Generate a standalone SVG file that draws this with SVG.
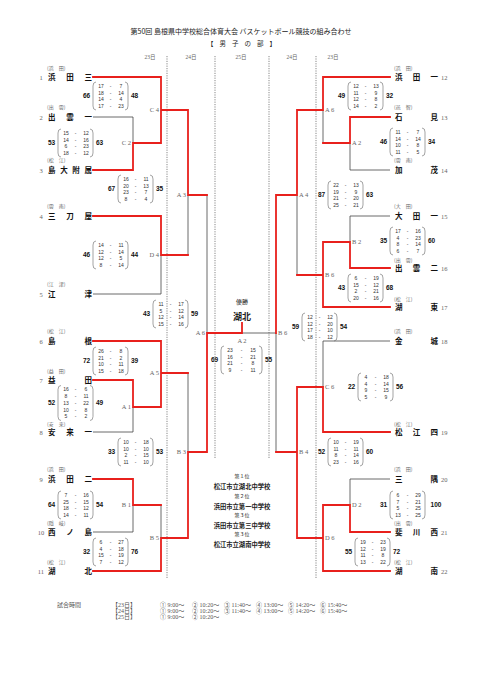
<svg xmlns="http://www.w3.org/2000/svg" width="481" height="680" viewBox="0 0 481 680">
<style>
.t{font-family:"Noto Sans CJK JP","Noto Sans",sans-serif}
.title{font-family:"Noto Sans CJK JP",sans-serif;fill:#222}
.date{font-family:"Liberation Serif","Noto Sans CJK JP",serif;font-size:5.5px;fill:#666;text-anchor:middle}
.nm{font-family:"Noto Sans CJK JP",sans-serif;font-size:7.5px;font-weight:700;fill:#111}
.rg{font-family:"Noto Sans CJK JP",sans-serif;font-size:5px;fill:#666}
.no{font-family:"Liberation Serif",serif;font-size:6.5px;fill:#666}
.lb{font-family:"Liberation Serif",serif;font-size:6.5px;fill:#666}
.sc{font-family:"Liberation Sans",sans-serif;font-size:6.5px;font-weight:700;fill:#111;text-anchor:middle}
.rw{font-family:"Liberation Sans",sans-serif;font-size:5px;fill:#333;text-anchor:middle}
.br{fill:none;stroke:#666;stroke-width:0.6}
.gl{fill:none;stroke:#444;stroke-width:0.8}
.rl{fill:none;stroke:#e8201c;stroke-width:1.8;stroke-linejoin:miter;stroke-linecap:square}
.dt{stroke:#555;stroke-width:0.7;stroke-dasharray:1.2 1.2}
.ctr{font-family:"Noto Sans CJK JP",sans-serif;text-anchor:middle;fill:#222}
.sch{font-family:"Liberation Serif","Noto Sans CJK JP",serif;font-size:6px;fill:#555}
</style>
<defs>
<path id="bk4" class="br" d="M3,-14 Q0,-14 0,-10 V10 Q0,14 3,14 M32,-14 Q35,-14 35,-10 V10 Q35,14 32,14"/>
<path id="bk5" class="br" d="M3,-17.5 Q0,-17.5 0,-13.5 V13.5 Q0,17.5 3,17.5 M32,-17.5 Q35,-17.5 35,-13.5 V13.5 Q35,17.5 32,17.5"/>
<path id="bkf" class="br" d="M3,-14 Q0,-14 0,-10 V10 Q0,14 3,14 M38,-14 Q41,-14 41,-10 V10 Q41,14 38,14"/>
</defs>
<rect width="481" height="680" fill="#fff"/>

<g id="header">
<text class="title" x="241" y="34" text-anchor="middle" font-size="7">第50回 島根県中学校総合体育大会 バスケットボール競技の組み合わせ</text>
<text class="title" x="207" y="46" font-size="6.5" textLength="69" lengthAdjust="spacing">【男子の部】</text>
<text class="date" x="150" y="59">23日</text>
<text class="date" x="191" y="59">24日</text>
<text class="date" x="241" y="59">25日</text>
<text class="date" x="292" y="59">24日</text>
<text class="date" x="333" y="59">23日</text>
</g>

<g id="day-dividers">
<line class="dt" x1="167" y1="56" x2="167" y2="578"/>
<line class="dt" x1="215" y1="56" x2="215" y2="458"/>
<line class="dt" x1="269" y1="56" x2="269" y2="458"/>
<line class="dt" x1="316" y1="56" x2="316" y2="578"/>
</g>

<g id="connectors">
<path class="gl" d="M93,117 H133 V143 M93,294 H161 V255 M188,255 V195 M207,195 V333 M93,432 H133 V407 M188,373 V452 M93,532 H133 V505 M161,505 V538 M242,333 H276"/>
<path class="gl" d="M390,170 H350 V143 M323,143 V110 M390,216 H350 V242 M297,275 V195 M390,341 H323 V387 M390,479 H350 V505 M276,452 V333"/>
<path class="rl" d="M93,77 H161 V110 H188 V195 H207 M93,170 H133 V143 H161 V110 M93,216 H161 V255 H188 M93,341 H161 V373 H188 M93,380 H133 V407 H161 V373 M93,479 H133 V505 H161 M93,571 H161 V538 H188 V452 H207 V333 H242 V323"/>
<path class="rl" d="M390,77 H323 V110 H297 V195 H276 V333 M390,117 H350 V143 H323 M390,268 H350 V242 H323 V275 H297 M390,307 H323 V275 M390,432 H323 V387 H297 V452 H276 M390,532 H350 V505 H323 V538 M390,571 H323 V538 H297 V452"/>
</g>

<g id="teams-left">
<g id="team-1"><text class="no" x="41" y="79.5" text-anchor="middle">1</text><text class="rg" x="47" y="70">(浜　田)</text><text class="nm" x="48" y="80" textLength="44" lengthAdjust="spacing">浜田三</text></g>
<g id="team-2"><text class="no" x="41" y="119.5" text-anchor="middle">2</text><text class="rg" x="47" y="109">(出　雲)</text><text class="nm" x="48" y="120" textLength="44" lengthAdjust="spacing">出雲一</text></g>
<g id="team-3"><text class="no" x="41" y="172.5" text-anchor="middle">3</text><text class="rg" x="47" y="161.5">(松　江)</text><text class="nm" x="48" y="173" textLength="44" lengthAdjust="spacing">島大附属</text></g>
<g id="team-4"><text class="no" x="41" y="218.5" text-anchor="middle">4</text><text class="rg" x="47" y="208">(雲　南)</text><text class="nm" x="48" y="219" textLength="44" lengthAdjust="spacing">三刀屋</text></g>
<g id="team-5"><text class="no" x="41" y="296.5" text-anchor="middle">5</text><text class="rg" x="47" y="286">(江　津)</text><text class="nm" x="48" y="297" textLength="44" lengthAdjust="spacing">江津</text></g>
<g id="team-6"><text class="no" x="41" y="343.5" text-anchor="middle">6</text><text class="rg" x="47" y="333">(松　江)</text><text class="nm" x="48" y="344" textLength="44" lengthAdjust="spacing">島根</text></g>
<g id="team-7"><text class="no" x="41" y="382.5" text-anchor="middle">7</text><text class="rg" x="47" y="373">(益　田)</text><text class="nm" x="48" y="383" textLength="44" lengthAdjust="spacing">益田</text></g>
<g id="team-8"><text class="no" x="41" y="434.5" text-anchor="middle">8</text><text class="rg" x="47" y="425.5">(安　来)</text><text class="nm" x="48" y="435" textLength="44" lengthAdjust="spacing">安来一</text></g>
<g id="team-9"><text class="no" x="41" y="481.5" text-anchor="middle">9</text><text class="rg" x="47" y="471">(浜　田)</text><text class="nm" x="48" y="482" textLength="44" lengthAdjust="spacing">浜田二</text></g>
<g id="team-10"><text class="no" x="41" y="534.5" text-anchor="middle">10</text><text class="rg" x="47" y="524.5">(隠　岐)</text><text class="nm" x="48" y="535" textLength="44" lengthAdjust="spacing">西ノ島</text></g>
<g id="team-11"><text class="no" x="41" y="573.5" text-anchor="middle">11</text><text class="rg" x="47" y="564">(松　江)</text><text class="nm" x="48" y="574" textLength="44" lengthAdjust="spacing">湖北</text></g>
</g>

<g id="teams-right">
<g id="team-12"><text class="no" x="441" y="79.5">12</text><text class="rg" x="394" y="70">(浜　田)</text><text class="nm" x="395" y="80" textLength="43" lengthAdjust="spacing">浜田一</text></g>
<g id="team-13"><text class="no" x="441" y="119.5">13</text><text class="rg" x="394" y="109">(邑　智)</text><text class="nm" x="395" y="120" textLength="43" lengthAdjust="spacing">石見</text></g>
<g id="team-14"><text class="no" x="441" y="172.5">14</text><text class="rg" x="394" y="161.5">(雲　南)</text><text class="nm" x="395" y="173" textLength="43" lengthAdjust="spacing">加茂</text></g>
<g id="team-15"><text class="no" x="441" y="218.5">15</text><text class="rg" x="394" y="208">(大　田)</text><text class="nm" x="395" y="219" textLength="43" lengthAdjust="spacing">大田一</text></g>
<g id="team-16"><text class="no" x="441" y="270.5">16</text><text class="rg" x="394" y="261.5">(出　雲)</text><text class="nm" x="395" y="271" textLength="43" lengthAdjust="spacing">出雲二</text></g>
<g id="team-17"><text class="no" x="441" y="309.5">17</text><text class="rg" x="394" y="300.5">(松　江)</text><text class="nm" x="395" y="310" textLength="43" lengthAdjust="spacing">湖東</text></g>
<g id="team-18"><text class="no" x="441" y="343.5">18</text><text class="rg" x="394" y="333">(浜　田)</text><text class="nm" x="395" y="344" textLength="43" lengthAdjust="spacing">金城</text></g>
<g id="team-19"><text class="no" x="441" y="434.5">19</text><text class="rg" x="394" y="425.5">(松　江)</text><text class="nm" x="395" y="435" textLength="43" lengthAdjust="spacing">松江四</text></g>
<g id="team-20"><text class="no" x="441" y="481.5">20</text><text class="rg" x="394" y="471">(浜　田)</text><text class="nm" x="395" y="482" textLength="43" lengthAdjust="spacing">三隅</text></g>
<g id="team-21"><text class="no" x="441" y="534.5">21</text><text class="rg" x="394" y="524.5">(出　雲)</text><text class="nm" x="395" y="535" textLength="43" lengthAdjust="spacing">斐川西</text></g>
<g id="team-22"><text class="no" x="441" y="573.5">22</text><text class="rg" x="394" y="564">(松　江)</text><text class="nm" x="395" y="574" textLength="43" lengthAdjust="spacing">湖南</text></g>
</g>

<g id="matches-left">
<g id="m-C4"><text class="lb" x="159" y="112" text-anchor="end">C 4</text><g transform="translate(93,96)"><use href="#bk4"/><text class="sc" x="-6.5" y="2.3">66</text><text class="sc" x="41.5" y="2.3">48</text>
<text class="rw" y="-8.2"><tspan x="8">17</tspan><tspan x="17.5">-</tspan><tspan x="28">7</tspan></text>
<text class="rw" y="-1.5"><tspan x="8">18</tspan><tspan x="17.5">-</tspan><tspan x="28">14</tspan></text>
<text class="rw" y="5.2"><tspan x="8">14</tspan><tspan x="17.5">-</tspan><tspan x="28">4</tspan></text>
<text class="rw" y="11.9"><tspan x="8">17</tspan><tspan x="17.5">-</tspan><tspan x="28">23</tspan></text></g></g>

<g id="m-C2"><text class="lb" x="131" y="145" text-anchor="end">C 2</text><g transform="translate(58,143)"><use href="#bk4"/><text class="sc" x="-6.5" y="2.3">53</text><text class="sc" x="41.5" y="2.3">63</text>
<text class="rw" y="-8.2"><tspan x="8">15</tspan><tspan x="17.5">-</tspan><tspan x="28">12</tspan></text>
<text class="rw" y="-1.5"><tspan x="8">14</tspan><tspan x="17.5">-</tspan><tspan x="28">16</tspan></text>
<text class="rw" y="5.2"><tspan x="8">6</tspan><tspan x="17.5">-</tspan><tspan x="28">23</tspan></text>
<text class="rw" y="11.9"><tspan x="8">18</tspan><tspan x="17.5">-</tspan><tspan x="28">12</tspan></text></g></g>

<g id="m-A3"><text class="lb" x="186" y="197" text-anchor="end">A 3</text><g transform="translate(118,189)"><use href="#bk4"/><text class="sc" x="-6.5" y="2.3">67</text><text class="sc" x="41.5" y="2.3">35</text>
<text class="rw" y="-8.2"><tspan x="8">16</tspan><tspan x="17.5">-</tspan><tspan x="28">11</tspan></text>
<text class="rw" y="-1.5"><tspan x="8">20</tspan><tspan x="17.5">-</tspan><tspan x="28">13</tspan></text>
<text class="rw" y="5.2"><tspan x="8">23</tspan><tspan x="17.5">-</tspan><tspan x="28">7</tspan></text>
<text class="rw" y="11.9"><tspan x="8">8</tspan><tspan x="17.5">-</tspan><tspan x="28">4</tspan></text></g></g>

<g id="m-D4"><text class="lb" x="159" y="257" text-anchor="end">D 4</text><g transform="translate(93,255)"><use href="#bk4"/><text class="sc" x="-6.5" y="2.3">46</text><text class="sc" x="41.5" y="2.3">44</text>
<text class="rw" y="-8.2"><tspan x="8">14</tspan><tspan x="17.5">-</tspan><tspan x="28">11</tspan></text>
<text class="rw" y="-1.5"><tspan x="8">12</tspan><tspan x="17.5">-</tspan><tspan x="28">14</tspan></text>
<text class="rw" y="5.2"><tspan x="8">12</tspan><tspan x="17.5">-</tspan><tspan x="28">5</tspan></text>
<text class="rw" y="11.9"><tspan x="8">8</tspan><tspan x="17.5">-</tspan><tspan x="28">14</tspan></text></g></g>

<g id="m-A6L"><text class="lb" x="205" y="335" text-anchor="end">A 6</text><g transform="translate(153,314)"><use href="#bk4"/><text class="sc" x="-6.5" y="2.3">43</text><text class="sc" x="41.5" y="2.3">59</text>
<text class="rw" y="-8.2"><tspan x="8">11</tspan><tspan x="17.5">-</tspan><tspan x="28">17</tspan></text>
<text class="rw" y="-1.5"><tspan x="8">5</tspan><tspan x="17.5">-</tspan><tspan x="28">12</tspan></text>
<text class="rw" y="5.2"><tspan x="8">12</tspan><tspan x="17.5">-</tspan><tspan x="28">14</tspan></text>
<text class="rw" y="11.9"><tspan x="8">15</tspan><tspan x="17.5">-</tspan><tspan x="28">16</tspan></text></g></g>

<g id="m-A5"><text class="lb" x="159" y="375" text-anchor="end">A 5</text><g transform="translate(93,361)"><use href="#bk4"/><text class="sc" x="-6.5" y="2.3">72</text><text class="sc" x="41.5" y="2.3">39</text>
<text class="rw" y="-8.2"><tspan x="8">26</tspan><tspan x="17.5">-</tspan><tspan x="28">8</tspan></text>
<text class="rw" y="-1.5"><tspan x="8">21</tspan><tspan x="17.5">-</tspan><tspan x="28">2</tspan></text>
<text class="rw" y="5.2"><tspan x="8">10</tspan><tspan x="17.5">-</tspan><tspan x="28">11</tspan></text>
<text class="rw" y="11.9"><tspan x="8">15</tspan><tspan x="17.5">-</tspan><tspan x="28">18</tspan></text></g></g>

<g id="m-A1"><text class="lb" x="131" y="409" text-anchor="end">A 1</text><g transform="translate(58,403)"><use href="#bk5"/><text class="sc" x="-6.5" y="2.3">52</text><text class="sc" x="41.5" y="2.3">49</text>
<text class="rw" y="-11.6"><tspan x="8">16</tspan><tspan x="17.5">-</tspan><tspan x="28">6</tspan></text>
<text class="rw" y="-4.9"><tspan x="8">8</tspan><tspan x="17.5">-</tspan><tspan x="28">11</tspan></text>
<text class="rw" y="1.8"><tspan x="8">13</tspan><tspan x="17.5">-</tspan><tspan x="28">22</tspan></text>
<text class="rw" y="8.5"><tspan x="8">10</tspan><tspan x="17.5">-</tspan><tspan x="28">8</tspan></text>
<text class="rw" y="15.2"><tspan x="8">5</tspan><tspan x="17.5">-</tspan><tspan x="28">2</tspan></text></g></g>

<g id="m-B3"><text class="lb" x="186" y="454" text-anchor="end">B 3</text><g transform="translate(118,452)"><use href="#bk4"/><text class="sc" x="-6.5" y="2.3">33</text><text class="sc" x="41.5" y="2.3">53</text>
<text class="rw" y="-8.2"><tspan x="8">10</tspan><tspan x="17.5">-</tspan><tspan x="28">18</tspan></text>
<text class="rw" y="-1.5"><tspan x="8">10</tspan><tspan x="17.5">-</tspan><tspan x="28">10</tspan></text>
<text class="rw" y="5.2"><tspan x="8">2</tspan><tspan x="17.5">-</tspan><tspan x="28">15</tspan></text>
<text class="rw" y="11.9"><tspan x="8">11</tspan><tspan x="17.5">-</tspan><tspan x="28">10</tspan></text></g></g>

<g id="m-B1"><text class="lb" x="131" y="507" text-anchor="end">B 1</text><g transform="translate(58,505)"><use href="#bk4"/><text class="sc" x="-6.5" y="2.3">64</text><text class="sc" x="41.5" y="2.3">54</text>
<text class="rw" y="-8.2"><tspan x="8">7</tspan><tspan x="17.5">-</tspan><tspan x="28">16</tspan></text>
<text class="rw" y="-1.5"><tspan x="8">25</tspan><tspan x="17.5">-</tspan><tspan x="28">15</tspan></text>
<text class="rw" y="5.2"><tspan x="8">18</tspan><tspan x="17.5">-</tspan><tspan x="28">12</tspan></text>
<text class="rw" y="11.9"><tspan x="8">14</tspan><tspan x="17.5">-</tspan><tspan x="28">11</tspan></text></g></g>

<g id="m-B5"><text class="lb" x="159" y="540" text-anchor="end">B 5</text><g transform="translate(93,552)"><use href="#bk4"/><text class="sc" x="-6.5" y="2.3">32</text><text class="sc" x="41.5" y="2.3">76</text>
<text class="rw" y="-8.2"><tspan x="8">6</tspan><tspan x="17.5">-</tspan><tspan x="28">27</tspan></text>
<text class="rw" y="-1.5"><tspan x="8">4</tspan><tspan x="17.5">-</tspan><tspan x="28">18</tspan></text>
<text class="rw" y="5.2"><tspan x="8">15</tspan><tspan x="17.5">-</tspan><tspan x="28">19</tspan></text>
<text class="rw" y="11.9"><tspan x="8">7</tspan><tspan x="17.5">-</tspan><tspan x="28">12</tspan></text></g></g>
</g>

<g id="matches-right">
<g id="m-A6R"><text class="lb" x="325" y="112">A 6</text><g transform="translate(348,96)"><use href="#bk4"/><text class="sc" x="-6.5" y="2.3">49</text><text class="sc" x="41.5" y="2.3">32</text>
<text class="rw" y="-8.2"><tspan x="8">12</tspan><tspan x="17.5">-</tspan><tspan x="28">13</tspan></text>
<text class="rw" y="-1.5"><tspan x="8">11</tspan><tspan x="17.5">-</tspan><tspan x="28">9</tspan></text>
<text class="rw" y="5.2"><tspan x="8">12</tspan><tspan x="17.5">-</tspan><tspan x="28">8</tspan></text>
<text class="rw" y="11.9"><tspan x="8">14</tspan><tspan x="17.5">-</tspan><tspan x="28">2</tspan></text></g></g>

<g id="m-A2R"><text class="lb" x="352" y="145">A 2</text><g transform="translate(390,142)"><use href="#bk4"/><text class="sc" x="-6.5" y="2.3">46</text><text class="sc" x="41.5" y="2.3">34</text>
<text class="rw" y="-8.2"><tspan x="8">11</tspan><tspan x="17.5">-</tspan><tspan x="28">7</tspan></text>
<text class="rw" y="-1.5"><tspan x="8">14</tspan><tspan x="17.5">-</tspan><tspan x="28">14</tspan></text>
<text class="rw" y="5.2"><tspan x="8">10</tspan><tspan x="17.5">-</tspan><tspan x="28">8</tspan></text>
<text class="rw" y="11.9"><tspan x="8">11</tspan><tspan x="17.5">-</tspan><tspan x="28">5</tspan></text></g></g>

<g id="m-A4R"><text class="lb" x="299" y="197">A 4</text><g transform="translate(328,195)"><use href="#bk4"/><text class="sc" x="-6.5" y="2.3">87</text><text class="sc" x="41.5" y="2.3">63</text>
<text class="rw" y="-8.2"><tspan x="8">22</tspan><tspan x="17.5">-</tspan><tspan x="28">13</tspan></text>
<text class="rw" y="-1.5"><tspan x="8">19</tspan><tspan x="17.5">-</tspan><tspan x="28">9</tspan></text>
<text class="rw" y="5.2"><tspan x="8">21</tspan><tspan x="17.5">-</tspan><tspan x="28">20</tspan></text>
<text class="rw" y="11.9"><tspan x="8">25</tspan><tspan x="17.5">-</tspan><tspan x="28">21</tspan></text></g></g>

<g id="m-B2R"><text class="lb" x="352" y="244">B 2</text><g transform="translate(390,241)"><use href="#bk4"/><text class="sc" x="-6.5" y="2.3">35</text><text class="sc" x="41.5" y="2.3">60</text>
<text class="rw" y="-8.2"><tspan x="8">17</tspan><tspan x="17.5">-</tspan><tspan x="28">16</tspan></text>
<text class="rw" y="-1.5"><tspan x="8">4</tspan><tspan x="17.5">-</tspan><tspan x="28">23</tspan></text>
<text class="rw" y="5.2"><tspan x="8">8</tspan><tspan x="17.5">-</tspan><tspan x="28">14</tspan></text>
<text class="rw" y="11.9"><tspan x="8">6</tspan><tspan x="17.5">-</tspan><tspan x="28">7</tspan></text></g></g>

<g id="m-B6R"><text class="lb" x="325" y="277">B 6</text><g transform="translate(348,288)"><use href="#bk4"/><text class="sc" x="-6.5" y="2.3">43</text><text class="sc" x="41.5" y="2.3">68</text>
<text class="rw" y="-8.2"><tspan x="8">6</tspan><tspan x="17.5">-</tspan><tspan x="28">19</tspan></text>
<text class="rw" y="-1.5"><tspan x="8">15</tspan><tspan x="17.5">-</tspan><tspan x="28">12</tspan></text>
<text class="rw" y="5.2"><tspan x="8">2</tspan><tspan x="17.5">-</tspan><tspan x="28">21</tspan></text>
<text class="rw" y="11.9"><tspan x="8">20</tspan><tspan x="17.5">-</tspan><tspan x="28">16</tspan></text></g></g>

<g id="m-B6S"><text class="lb" x="278" y="335">B 6</text><g transform="translate(302,327)"><use href="#bk4"/><text class="sc" x="-6.5" y="2.3">59</text><text class="sc" x="41.5" y="2.3">54</text>
<text class="rw" y="-8.2"><tspan x="8">12</tspan><tspan x="17.5">-</tspan><tspan x="28">12</tspan></text>
<text class="rw" y="-1.5"><tspan x="8">12</tspan><tspan x="17.5">-</tspan><tspan x="28">20</tspan></text>
<text class="rw" y="5.2"><tspan x="8">17</tspan><tspan x="17.5">-</tspan><tspan x="28">10</tspan></text>
<text class="rw" y="11.9"><tspan x="8">18</tspan><tspan x="17.5">-</tspan><tspan x="28">12</tspan></text></g></g>

<g id="m-C6R"><text class="lb" x="325" y="389">C 6</text><g transform="translate(358,387)"><use href="#bk4"/><text class="sc" x="-6.5" y="2.3">22</text><text class="sc" x="41.5" y="2.3">56</text>
<text class="rw" y="-8.2"><tspan x="8">4</tspan><tspan x="17.5">-</tspan><tspan x="28">18</tspan></text>
<text class="rw" y="-1.5"><tspan x="8">4</tspan><tspan x="17.5">-</tspan><tspan x="28">14</tspan></text>
<text class="rw" y="5.2"><tspan x="8">9</tspan><tspan x="17.5">-</tspan><tspan x="28">15</tspan></text>
<text class="rw" y="11.9"><tspan x="8">5</tspan><tspan x="17.5">-</tspan><tspan x="28">9</tspan></text></g></g>

<g id="m-B4R"><text class="lb" x="299" y="454">B 4</text><g transform="translate(328,452)"><use href="#bk4"/><text class="sc" x="-6.5" y="2.3">52</text><text class="sc" x="41.5" y="2.3">60</text>
<text class="rw" y="-8.2"><tspan x="8">10</tspan><tspan x="17.5">-</tspan><tspan x="28">19</tspan></text>
<text class="rw" y="-1.5"><tspan x="8">11</tspan><tspan x="17.5">-</tspan><tspan x="28">11</tspan></text>
<text class="rw" y="5.2"><tspan x="8">8</tspan><tspan x="17.5">-</tspan><tspan x="28">14</tspan></text>
<text class="rw" y="11.9"><tspan x="8">23</tspan><tspan x="17.5">-</tspan><tspan x="28">16</tspan></text></g></g>

<g id="m-D2R"><text class="lb" x="352" y="507">D 2</text><g transform="translate(390,505)"><use href="#bk4"/><text class="sc" x="-6.5" y="2.3">31</text><text class="sc" x="46" y="2.3">100</text>
<text class="rw" y="-8.2"><tspan x="8">6</tspan><tspan x="17.5">-</tspan><tspan x="28">29</tspan></text>
<text class="rw" y="-1.5"><tspan x="8">7</tspan><tspan x="17.5">-</tspan><tspan x="28">21</tspan></text>
<text class="rw" y="5.2"><tspan x="8">5</tspan><tspan x="17.5">-</tspan><tspan x="28">25</tspan></text>
<text class="rw" y="11.9"><tspan x="8">13</tspan><tspan x="17.5">-</tspan><tspan x="28">25</tspan></text></g></g>

<g id="m-D6R"><text class="lb" x="325" y="540">D 6</text><g transform="translate(355,552)"><use href="#bk4"/><text class="sc" x="-6.5" y="2.3">55</text><text class="sc" x="41.5" y="2.3">72</text>
<text class="rw" y="-8.2"><tspan x="8">19</tspan><tspan x="17.5">-</tspan><tspan x="28">23</tspan></text>
<text class="rw" y="-1.5"><tspan x="8">12</tspan><tspan x="17.5">-</tspan><tspan x="28">19</tspan></text>
<text class="rw" y="5.2"><tspan x="8">11</tspan><tspan x="17.5">-</tspan><tspan x="28">8</tspan></text>
<text class="rw" y="11.9"><tspan x="8">13</tspan><tspan x="17.5">-</tspan><tspan x="28">22</tspan></text></g></g>
</g>

<g id="final">
<text class="ctr" x="242" y="304" font-size="6">優勝</text>
<text class="ctr" x="242" y="319.5" font-size="9" font-weight="700">湖北</text>
<text class="lb" x="242" y="342.5" text-anchor="middle">A 2</text>
<g transform="translate(221,360)"><use href="#bkf"/><text class="sc" x="-6.5" y="2.3">69</text><text class="sc" x="47.5" y="2.3">55</text>
<text class="rw" y="-8.2"><tspan x="9">23</tspan><tspan x="20.5">-</tspan><tspan x="32">15</tspan></text>
<text class="rw" y="-1.5"><tspan x="9">16</tspan><tspan x="20.5">-</tspan><tspan x="32">21</tspan></text>
<text class="rw" y="5.2"><tspan x="9">21</tspan><tspan x="20.5">-</tspan><tspan x="32">8</tspan></text>
<text class="rw" y="11.9"><tspan x="9">9</tspan><tspan x="20.5">-</tspan><tspan x="32">11</tspan></text></g>
</g>

<g id="results">
<text class="ctr" x="242" y="478" font-size="5">第１位</text>
<text class="ctr" x="242" y="488.5" font-size="6.3" font-weight="700">松江市立湖北中学校</text>
<text class="ctr" x="242" y="498" font-size="5">第２位</text>
<text class="ctr" x="242" y="508.5" font-size="6.3" font-weight="700">浜田市立第一中学校</text>
<text class="ctr" x="242" y="517" font-size="5">第３位</text>
<text class="ctr" x="242" y="527.5" font-size="6.3" font-weight="700">浜田市立第三中学校</text>
<text class="ctr" x="242" y="536" font-size="5">第３位</text>
<text class="ctr" x="242" y="546.5" font-size="6.3" font-weight="700">松江市立湖南中学校</text>
</g>

<g id="schedule">
<text class="sch" x="57" y="607" font-size="6.5">試合時間</text>
<text class="sch" x="112" y="607" font-size="5.5">【23日】</text>
<text class="sch" x="112" y="613" font-size="5.5">【24日】</text>
<text class="sch" x="112" y="619" font-size="5.5">【25日】</text>
<text class="sch" y="607"><tspan x="160">① 9:00～</tspan><tspan x="192">② 10:20～</tspan><tspan x="224">③ 11:40～</tspan><tspan x="256">④ 13:00～</tspan><tspan x="288">⑤ 14:20～</tspan><tspan x="320">⑥ 15:40～</tspan></text>
<text class="sch" y="613"><tspan x="160">① 9:00～</tspan><tspan x="192">② 10:20～</tspan><tspan x="224">③ 11:40～</tspan><tspan x="256">④ 13:00～</tspan><tspan x="288">⑤ 14:20～</tspan><tspan x="320">⑥ 15:40～</tspan></text>
<text class="sch" y="619"><tspan x="160">① 9:00～</tspan><tspan x="192">② 10:20～</tspan></text>
</g>
</svg>
